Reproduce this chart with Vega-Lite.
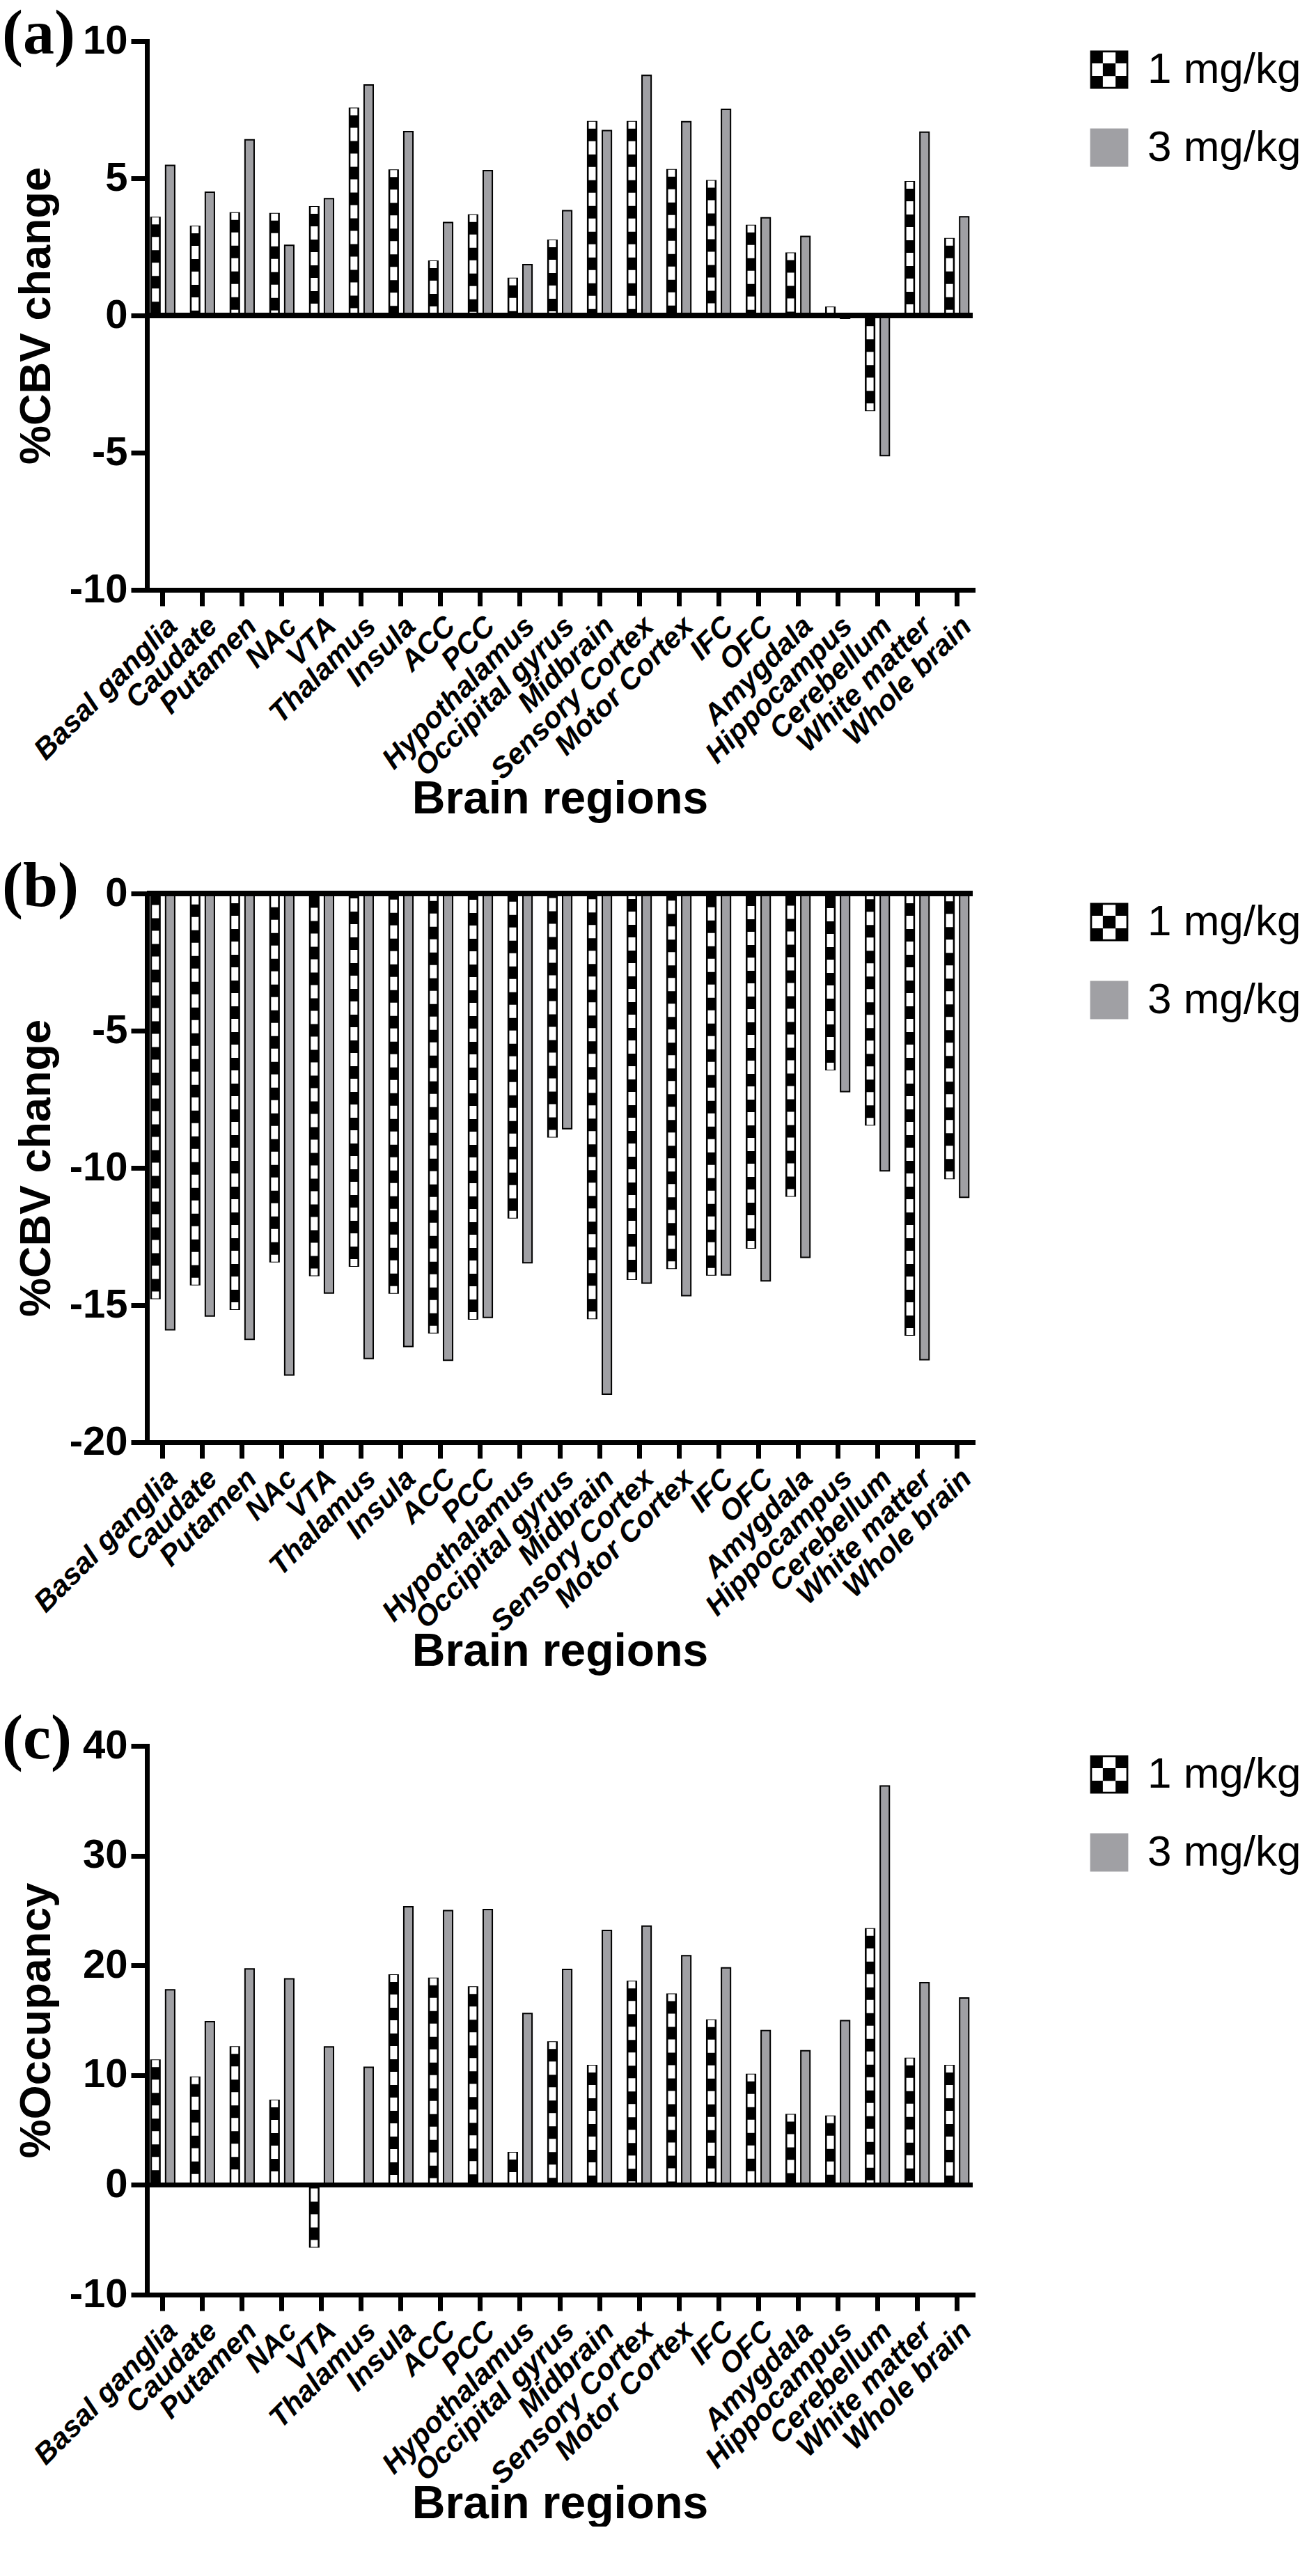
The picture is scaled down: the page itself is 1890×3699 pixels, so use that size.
{
  "$schema": "https://vega.github.io/schema/vega-lite/v6.json",
  "padding": {"left": 3, "top": 5, "right": 5, "bottom": 0},
  "background": "white",
  "config": {
    "font": "Liberation Sans",
    "view": {"stroke": null},
    "axis": {"domainColor": "black", "domainWidth": 7, "tickColor": "black", "tickWidth": 7, "tickSize": 23, "labelColor": "black", "titleColor": "black", "grid": false, "labelFont": "Liberation Sans", "titleFont": "Liberation Sans", "titleFontWeight": "bold", "labelFontWeight": "bold", "domainCap": "square"},
    "axisX": {"labelAngle": -45, "labelFontSize": 42, "labelFontStyle": "italic", "labelPadding": 8, "labelLimit": 1000, "titleFontSize": 66, "titlePadding": 68},
    "axisY": {"labelFontSize": 58, "labelPadding": 5, "titleFontSize": 63, "titlePadding": 15, "labelExpr": "datum.value < 0 ? '-' + abs(datum.value) : '' + datum.value"},
    "legend": {"title": null, "orient": "right", "offset": 155, "padding": 10, "labelFont": "Liberation Sans", "labelFontSize": 62, "labelColor": "black", "labelLimit": 600, "symbolSize": 3000, "rowPadding": 48, "symbolStrokeColor": "black", "symbolStrokeWidth": 2, "labelOffset": 24, "symbolOpacity": 1},
    "title": {"anchor": "start", "frame": "group", "font": "Liberation Serif", "fontSize": 90, "fontWeight": "bold", "color": "black", "offset": -66, "dx": -208}
  },
  "datasets": {
    "a": [
      {"region": "Basal ganglia", "dose": "1 mg/kg", "value": 3.57}, {"region": "Basal ganglia", "dose": "3 mg/kg", "value": 5.47},
      {"region": "Caudate", "dose": "1 mg/kg", "value": 3.25}, {"region": "Caudate", "dose": "3 mg/kg", "value": 4.49},
      {"region": "Putamen", "dose": "1 mg/kg", "value": 3.74}, {"region": "Putamen", "dose": "3 mg/kg", "value": 6.4},
      {"region": "NAc", "dose": "1 mg/kg", "value": 3.71}, {"region": "NAc", "dose": "3 mg/kg", "value": 2.56},
      {"region": "VTA", "dose": "1 mg/kg", "value": 3.96}, {"region": "VTA", "dose": "3 mg/kg", "value": 4.26},
      {"region": "Thalamus", "dose": "1 mg/kg", "value": 7.55}, {"region": "Thalamus", "dose": "3 mg/kg", "value": 8.4},
      {"region": "Insula", "dose": "1 mg/kg", "value": 5.3}, {"region": "Insula", "dose": "3 mg/kg", "value": 6.7},
      {"region": "ACC", "dose": "1 mg/kg", "value": 1.98}, {"region": "ACC", "dose": "3 mg/kg", "value": 3.39},
      {"region": "PCC", "dose": "1 mg/kg", "value": 3.66}, {"region": "PCC", "dose": "3 mg/kg", "value": 5.28},
      {"region": "Hypothalamus", "dose": "1 mg/kg", "value": 1.35}, {"region": "Hypothalamus", "dose": "3 mg/kg", "value": 1.85},
      {"region": "Occipital gyrus", "dose": "1 mg/kg", "value": 2.74}, {"region": "Occipital gyrus", "dose": "3 mg/kg", "value": 3.82},
      {"region": "Midbrain", "dose": "1 mg/kg", "value": 7.06}, {"region": "Midbrain", "dose": "3 mg/kg", "value": 6.74},
      {"region": "Sensory Cortex", "dose": "1 mg/kg", "value": 7.06}, {"region": "Sensory Cortex", "dose": "3 mg/kg", "value": 8.75},
      {"region": "Motor Cortex", "dose": "1 mg/kg", "value": 5.31}, {"region": "Motor Cortex", "dose": "3 mg/kg", "value": 7.06},
      {"region": "IFC", "dose": "1 mg/kg", "value": 4.91}, {"region": "IFC", "dose": "3 mg/kg", "value": 7.51},
      {"region": "OFC", "dose": "1 mg/kg", "value": 3.28}, {"region": "OFC", "dose": "3 mg/kg", "value": 3.56},
      {"region": "Amygdala", "dose": "1 mg/kg", "value": 2.27}, {"region": "Amygdala", "dose": "3 mg/kg", "value": 2.88},
      {"region": "Hippocampus", "dose": "1 mg/kg", "value": 0.3}, {"region": "Hippocampus", "dose": "3 mg/kg", "value": -0.1},
      {"region": "Cerebellum", "dose": "1 mg/kg", "value": -3.46}, {"region": "Cerebellum", "dose": "3 mg/kg", "value": -5.11},
      {"region": "White matter", "dose": "1 mg/kg", "value": 4.87}, {"region": "White matter", "dose": "3 mg/kg", "value": 6.68},
      {"region": "Whole brain", "dose": "1 mg/kg", "value": 2.8}, {"region": "Whole brain", "dose": "3 mg/kg", "value": 3.6}
    ],
    "b": [
      {"region": "Basal ganglia", "dose": "1 mg/kg", "value": -14.76}, {"region": "Basal ganglia", "dose": "3 mg/kg", "value": -15.9},
      {"region": "Caudate", "dose": "1 mg/kg", "value": -14.26}, {"region": "Caudate", "dose": "3 mg/kg", "value": -15.4},
      {"region": "Putamen", "dose": "1 mg/kg", "value": -15.15}, {"region": "Putamen", "dose": "3 mg/kg", "value": -16.25},
      {"region": "NAc", "dose": "1 mg/kg", "value": -13.42}, {"region": "NAc", "dose": "3 mg/kg", "value": -17.55},
      {"region": "VTA", "dose": "1 mg/kg", "value": -13.92}, {"region": "VTA", "dose": "3 mg/kg", "value": -14.56},
      {"region": "Thalamus", "dose": "1 mg/kg", "value": -13.58}, {"region": "Thalamus", "dose": "3 mg/kg", "value": -16.95},
      {"region": "Insula", "dose": "1 mg/kg", "value": -14.56}, {"region": "Insula", "dose": "3 mg/kg", "value": -16.51},
      {"region": "ACC", "dose": "1 mg/kg", "value": -16.01}, {"region": "ACC", "dose": "3 mg/kg", "value": -17.01},
      {"region": "PCC", "dose": "1 mg/kg", "value": -15.51}, {"region": "PCC", "dose": "3 mg/kg", "value": -15.45},
      {"region": "Hypothalamus", "dose": "1 mg/kg", "value": -11.82}, {"region": "Hypothalamus", "dose": "3 mg/kg", "value": -13.46},
      {"region": "Occipital gyrus", "dose": "1 mg/kg", "value": -8.87}, {"region": "Occipital gyrus", "dose": "3 mg/kg", "value": -8.57},
      {"region": "Midbrain", "dose": "1 mg/kg", "value": -15.49}, {"region": "Midbrain", "dose": "3 mg/kg", "value": -18.25},
      {"region": "Sensory Cortex", "dose": "1 mg/kg", "value": -14.06}, {"region": "Sensory Cortex", "dose": "3 mg/kg", "value": -14.2},
      {"region": "Motor Cortex", "dose": "1 mg/kg", "value": -13.66}, {"region": "Motor Cortex", "dose": "3 mg/kg", "value": -14.66},
      {"region": "IFC", "dose": "1 mg/kg", "value": -13.9}, {"region": "IFC", "dose": "3 mg/kg", "value": -13.9},
      {"region": "OFC", "dose": "1 mg/kg", "value": -12.92}, {"region": "OFC", "dose": "3 mg/kg", "value": -14.12},
      {"region": "Amygdala", "dose": "1 mg/kg", "value": -11.03}, {"region": "Amygdala", "dose": "3 mg/kg", "value": -13.26},
      {"region": "Hippocampus", "dose": "1 mg/kg", "value": -6.42}, {"region": "Hippocampus", "dose": "3 mg/kg", "value": -7.22},
      {"region": "Cerebellum", "dose": "1 mg/kg", "value": -8.43}, {"region": "Cerebellum", "dose": "3 mg/kg", "value": -10.11},
      {"region": "White matter", "dose": "1 mg/kg", "value": -16.09}, {"region": "White matter", "dose": "3 mg/kg", "value": -16.99},
      {"region": "Whole brain", "dose": "1 mg/kg", "value": -10.39}, {"region": "Whole brain", "dose": "3 mg/kg", "value": -11.07}
    ],
    "c": [
      {"region": "Basal ganglia", "dose": "1 mg/kg", "value": 11.37}, {"region": "Basal ganglia", "dose": "3 mg/kg", "value": 17.78},
      {"region": "Caudate", "dose": "1 mg/kg", "value": 9.81}, {"region": "Caudate", "dose": "3 mg/kg", "value": 14.87},
      {"region": "Putamen", "dose": "1 mg/kg", "value": 12.57}, {"region": "Putamen", "dose": "3 mg/kg", "value": 19.68},
      {"region": "NAc", "dose": "1 mg/kg", "value": 7.71}, {"region": "NAc", "dose": "3 mg/kg", "value": 18.78},
      {"region": "VTA", "dose": "1 mg/kg", "value": -5.66}, {"region": "VTA", "dose": "3 mg/kg", "value": 12.57},
      {"region": "Thalamus", "dose": "1 mg/kg", "value": 0}, {"region": "Thalamus", "dose": "3 mg/kg", "value": 10.72},
      {"region": "Insula", "dose": "1 mg/kg", "value": 19.13}, {"region": "Insula", "dose": "3 mg/kg", "value": 25.34},
      {"region": "ACC", "dose": "1 mg/kg", "value": 18.83}, {"region": "ACC", "dose": "3 mg/kg", "value": 24.99},
      {"region": "PCC", "dose": "1 mg/kg", "value": 18.03}, {"region": "PCC", "dose": "3 mg/kg", "value": 25.09},
      {"region": "Hypothalamus", "dose": "1 mg/kg", "value": 2.95}, {"region": "Hypothalamus", "dose": "3 mg/kg", "value": 15.62},
      {"region": "Occipital gyrus", "dose": "1 mg/kg", "value": 13.02}, {"region": "Occipital gyrus", "dose": "3 mg/kg", "value": 19.63},
      {"region": "Midbrain", "dose": "1 mg/kg", "value": 10.87}, {"region": "Midbrain", "dose": "3 mg/kg", "value": 23.18},
      {"region": "Sensory Cortex", "dose": "1 mg/kg", "value": 18.53}, {"region": "Sensory Cortex", "dose": "3 mg/kg", "value": 23.58},
      {"region": "Motor Cortex", "dose": "1 mg/kg", "value": 17.38}, {"region": "Motor Cortex", "dose": "3 mg/kg", "value": 20.88},
      {"region": "IFC", "dose": "1 mg/kg", "value": 15.02}, {"region": "IFC", "dose": "3 mg/kg", "value": 19.78},
      {"region": "OFC", "dose": "1 mg/kg", "value": 10.07}, {"region": "OFC", "dose": "3 mg/kg", "value": 14.07},
      {"region": "Amygdala", "dose": "1 mg/kg", "value": 6.41}, {"region": "Amygdala", "dose": "3 mg/kg", "value": 12.22},
      {"region": "Hippocampus", "dose": "1 mg/kg", "value": 6.26}, {"region": "Hippocampus", "dose": "3 mg/kg", "value": 14.97},
      {"region": "Cerebellum", "dose": "1 mg/kg", "value": 23.33}, {"region": "Cerebellum", "dose": "3 mg/kg", "value": 36.35},
      {"region": "White matter", "dose": "1 mg/kg", "value": 11.52}, {"region": "White matter", "dose": "3 mg/kg", "value": 18.43},
      {"region": "Whole brain", "dose": "1 mg/kg", "value": 10.87}, {"region": "Whole brain", "dose": "3 mg/kg", "value": 17.03}
    ]
  },
  "spacing": 49,
  "resolve": {"scale": {"x": "independent", "y": "independent", "fill": "independent", "shape": "independent"}, "legend": {"fill": "independent", "shape": "independent"}},
  "vconcat": [
    {
      "width": 1186, "height": 788,
      "title": {"text": "(a)"},
      "data": {"name": "a"},
      "layer": [
        {
          "mark": {"type": "bar", "stroke": "black", "strokeWidth": 2},
          "encoding": {
            "x": {"field": "region", "type": "nominal", "sort": null, "scale": {"paddingInner": 0.4, "paddingOuter": 0.1}, "axis": {"title": "Brain regions"}},
            "xOffset": {"field": "dose", "type": "nominal", "scale": {"paddingInner": 0.38, "paddingOuter": 0}},
            "y": {"field": "value", "type": "quantitative", "scale": {"domain": [-10, 10], "nice": false, "zero": false}, "axis": {"title": "%CBV change", "values": [-10, -5, 0, 5, 10]}},
            "fill": {"field": "dose", "type": "nominal", "scale": {"domain": ["1 mg/kg", "3 mg/kg"], "range": ["black", "#a0a0a4"]}}
          }
        },
        {
          "transform": [{"filter": "datum.dose === '1 mg/kg'"}],
          "mark": {"type": "rule", "strokeWidth": 10, "strokeDash": [19, 18], "strokeDashOffset": 9, "color": "white", "strokeCap": "butt"},
          "encoding": {
            "x": {"field": "region", "type": "nominal", "sort": null},
            "xOffset": {"field": "dose", "type": "nominal"},
            "y": {"field": "value", "type": "quantitative"},
            "y2": {"datum": 0}
          }
        },
        {
          "mark": {"type": "point", "filled": true, "opacity": 0, "size": 4},
          "encoding": {
            "x": {"field": "region", "type": "nominal", "sort": null},
            "xOffset": {"field": "dose", "type": "nominal"},
            "y": {"field": "value", "type": "quantitative"},
            "fill": {"field": "dose", "type": "nominal"},
            "shape": {"field": "dose", "type": "nominal", "scale": {"domain": ["1 mg/kg", "3 mg/kg"], "range": ["M-1,-1H1V1H-1Z M-0.9,-0.9V0.9H0.9V-0.9Z M-1,-1h0.667v0.667h-0.667Z M0.333,-1h0.667v0.667h-0.667Z M-0.333,-0.333h0.667v0.667h-0.667Z M-1,0.333h0.667v0.667h-0.667Z M0.333,0.333h0.667v0.667h-0.667Z", "square"]}}
          }
        },
        {
          "mark": {"type": "rule", "strokeWidth": 7, "color": "black"},
          "encoding": {"y": {"datum": 0, "type": "quantitative"}}
        }
      ]
    },
    {
      "width": 1186, "height": 788,
      "title": {"text": "(b)"},
      "data": {"name": "b"},
      "layer": [
        {
          "mark": {"type": "bar", "stroke": "black", "strokeWidth": 2},
          "encoding": {
            "x": {"field": "region", "type": "nominal", "sort": null, "scale": {"paddingInner": 0.4, "paddingOuter": 0.1}, "axis": {"title": "Brain regions"}},
            "xOffset": {"field": "dose", "type": "nominal", "scale": {"paddingInner": 0.38, "paddingOuter": 0}},
            "y": {"field": "value", "type": "quantitative", "scale": {"domain": [-20, 0], "nice": false, "zero": false}, "axis": {"title": "%CBV change", "values": [-20, -15, -10, -5, 0]}},
            "fill": {"field": "dose", "type": "nominal", "scale": {"domain": ["1 mg/kg", "3 mg/kg"], "range": ["black", "#a0a0a4"]}}
          }
        },
        {
          "transform": [{"filter": "datum.dose === '1 mg/kg'"}],
          "mark": {"type": "rule", "strokeWidth": 10, "strokeDash": [19, 18], "strokeDashOffset": 9, "color": "white", "strokeCap": "butt"},
          "encoding": {
            "x": {"field": "region", "type": "nominal", "sort": null},
            "xOffset": {"field": "dose", "type": "nominal"},
            "y": {"field": "value", "type": "quantitative"},
            "y2": {"datum": 0}
          }
        },
        {
          "mark": {"type": "point", "filled": true, "opacity": 0, "size": 4},
          "encoding": {
            "x": {"field": "region", "type": "nominal", "sort": null},
            "xOffset": {"field": "dose", "type": "nominal"},
            "y": {"field": "value", "type": "quantitative"},
            "fill": {"field": "dose", "type": "nominal"},
            "shape": {"field": "dose", "type": "nominal", "scale": {"domain": ["1 mg/kg", "3 mg/kg"], "range": ["M-1,-1H1V1H-1Z M-0.9,-0.9V0.9H0.9V-0.9Z M-1,-1h0.667v0.667h-0.667Z M0.333,-1h0.667v0.667h-0.667Z M-0.333,-0.333h0.667v0.667h-0.667Z M-1,0.333h0.667v0.667h-0.667Z M0.333,0.333h0.667v0.667h-0.667Z", "square"]}}
          }
        },
        {
          "mark": {"type": "rule", "strokeWidth": 7, "color": "black"},
          "encoding": {"y": {"datum": 0, "type": "quantitative"}}
        }
      ]
    },
    {
      "width": 1186, "height": 788,
      "title": {"text": "(c)"},
      "data": {"name": "c"},
      "layer": [
        {
          "mark": {"type": "bar", "stroke": "black", "strokeWidth": 2},
          "encoding": {
            "x": {"field": "region", "type": "nominal", "sort": null, "scale": {"paddingInner": 0.4, "paddingOuter": 0.1}, "axis": {"title": "Brain regions"}},
            "xOffset": {"field": "dose", "type": "nominal", "scale": {"paddingInner": 0.38, "paddingOuter": 0}},
            "y": {"field": "value", "type": "quantitative", "scale": {"domain": [-10, 40], "nice": false, "zero": false}, "axis": {"title": "%Occupancy", "values": [-10, 0, 10, 20, 30, 40]}},
            "fill": {"field": "dose", "type": "nominal", "scale": {"domain": ["1 mg/kg", "3 mg/kg"], "range": ["black", "#a0a0a4"]}}
          }
        },
        {
          "transform": [{"filter": "datum.dose === '1 mg/kg'"}],
          "mark": {"type": "rule", "strokeWidth": 10, "strokeDash": [19, 18], "strokeDashOffset": 9, "color": "white", "strokeCap": "butt"},
          "encoding": {
            "x": {"field": "region", "type": "nominal", "sort": null},
            "xOffset": {"field": "dose", "type": "nominal"},
            "y": {"field": "value", "type": "quantitative"},
            "y2": {"datum": 0}
          }
        },
        {
          "mark": {"type": "point", "filled": true, "opacity": 0, "size": 4},
          "encoding": {
            "x": {"field": "region", "type": "nominal", "sort": null},
            "xOffset": {"field": "dose", "type": "nominal"},
            "y": {"field": "value", "type": "quantitative"},
            "fill": {"field": "dose", "type": "nominal"},
            "shape": {"field": "dose", "type": "nominal", "scale": {"domain": ["1 mg/kg", "3 mg/kg"], "range": ["M-1,-1H1V1H-1Z M-0.9,-0.9V0.9H0.9V-0.9Z M-1,-1h0.667v0.667h-0.667Z M0.333,-1h0.667v0.667h-0.667Z M-0.333,-0.333h0.667v0.667h-0.667Z M-1,0.333h0.667v0.667h-0.667Z M0.333,0.333h0.667v0.667h-0.667Z", "square"]}}
          }
        },
        {
          "mark": {"type": "rule", "strokeWidth": 7, "color": "black"},
          "encoding": {"y": {"datum": 0, "type": "quantitative"}}
        }
      ]
    }
  ]
}
